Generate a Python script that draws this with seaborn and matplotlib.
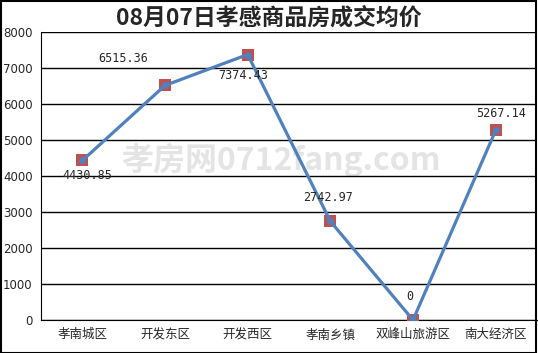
import numpy as np
import pandas as pd
import seaborn as sns
import matplotlib.pyplot as plt
from matplotlib.patches import Rectangle

districts = ['孝南城区', '开发东区', '开发西区', '孝南乡镇', '双峰山旅游区', '南大经济区']
prices = [4430.85, 6515.36, 7374.43, 2742.97, 0, 5267.14]
price_labels = ['4430.85', '6515.36', '7374.43', '2742.97', '0', '5267.14']
label_offsets = [(5, -15), (-42, 27), (-4, -21), (-2, 24), (-3, 24), (5, 17)]

sns.set_style('white')
plt.rcParams['font.family'] = ['Noto Sans CJK SC', 'DejaVu Sans']

df = pd.DataFrame({'pos': np.arange(len(districts)), 'price': prices})

fig = plt.figure(figsize=(5.38, 3.53), dpi=100)
ax = fig.add_axes([41 / 538, 1 - 320 / 353, 496 / 538, 288 / 353])

# watermark
ax.text(2.4, 4450, '孝房网0712fang.com', fontsize=23, color='#e4e4e4',
        ha='center', va='center', zorder=0, fontweight='bold')

ax.scatter(df['pos'], df['price'], marker='s', s=70, color='#c0504d', zorder=3, linewidths=0)
sns.lineplot(data=df, x='pos', y='price', ax=ax, color='#4f81bd', linewidth=2.3,
             marker='o', markersize=5, markeredgewidth=0, zorder=4)

for i, (v, t) in enumerate(zip(prices, price_labels)):
    ax.annotate(t, (i, v), xytext=label_offsets[i], textcoords='offset pixels',
                ha='center', va='center', fontsize=8.5, family='DejaVu Sans Mono', zorder=5)

ax.set_xlim(-0.5, len(districts) - 0.5)
ax.set_ylim(0, 8000)
ax.set_yticks(range(0, 8001, 1000))
ax.set_yticklabels([str(v) for v in range(0, 8001, 1000)], fontsize=8.5, family='DejaVu Sans')
ax.yaxis.grid(True, color='black', linewidth=1)
ax.set_axisbelow(True)

ax.set_xticks(np.arange(-0.5, len(districts), 1))
ax.set_xticklabels([])
ax.set_xticks(np.arange(len(districts)), minor=True)
ax.set_xticklabels(districts, minor=True, fontsize=9)
ax.tick_params(axis='x', which='major', direction='inout', length=8, width=1, color='black')
ax.tick_params(axis='x', which='minor', length=0, pad=6)
ax.tick_params(axis='y', direction='out', length=4, width=1, color='black', pad=2)

ax.set_xlabel('')
ax.set_ylabel('')
for side in ['top', 'right']:
    ax.spines[side].set_visible(False)
ax.spines['left'].set_color('black')
ax.spines['bottom'].set_color('black')

fig.text(0.5, 1 - 18 / 353, '08月07日孝感商品房成交均价', ha='center', va='center',
         fontsize=16.5, fontweight='bold')

fig.patches.append(Rectangle((0.001, 0.001), 0.996, 0.996, transform=fig.transFigure,
                             fill=False, edgecolor='black', linewidth=1.5))

fig.savefig('out.png', dpi=100)
